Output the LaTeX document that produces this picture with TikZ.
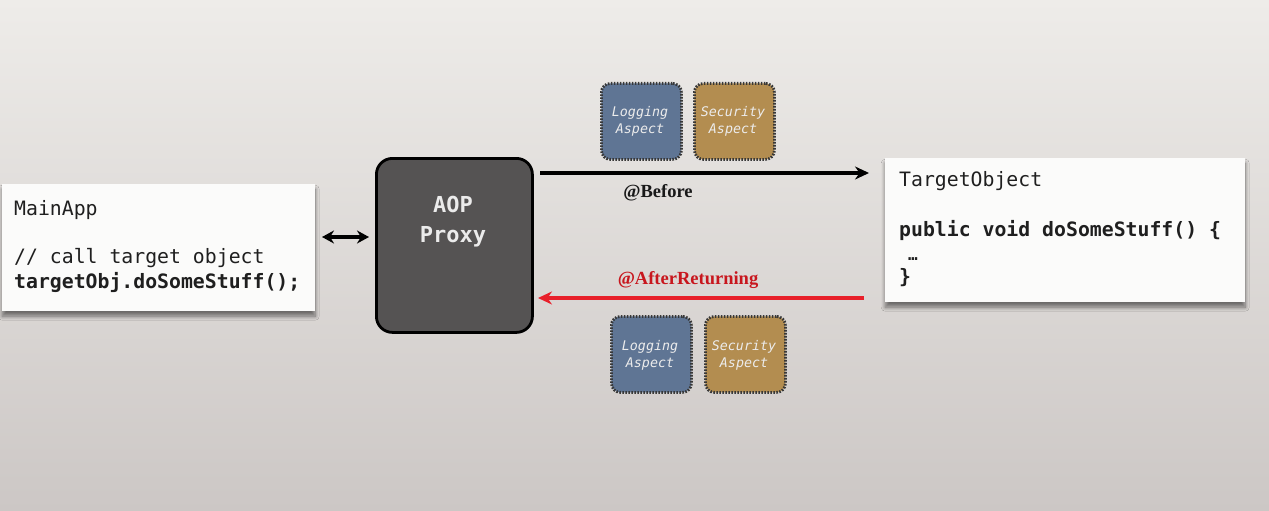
\documentclass[tikz,border=0pt]{standalone}
\usepackage{fontspec}
\setmonofont{DejaVu Sans Mono}
\newfontfamily\labelfont{Liberation Serif}
\usetikzlibrary{arrows.meta,shadows.blur}
\definecolor{bgtop}{HTML}{EEECE9}
\definecolor{bgmid}{HTML}{E8E5E2}
\definecolor{bgbot}{HTML}{CCC7C5}
\definecolor{proxyfill}{HTML}{555353}
\definecolor{logfill}{HTML}{5F7594}
\definecolor{secfill}{HTML}{B38D50}
\definecolor{aspecttext}{HTML}{ECECEC}
\definecolor{retred}{HTML}{E8202A}
\definecolor{retlabel}{HTML}{C8161E}
\definecolor{codebox}{HTML}{FBFBFA}
\tikzset{
  codepanel/.style={draw=none, fill=codebox, anchor=north west, inner sep=0pt,
    blur shadow={shadow xshift=0pt, shadow yshift=-5pt, shadow blur steps=8, shadow opacity=50, shadow blur radius=4pt}},
  codetext/.style={anchor=base west, inner sep=0pt, font=\ttfamily\fontsize{19.8}{24}\selectfont, text=black!88},
  aspectbox/.style={draw=black!78, line width=2.8pt, dash pattern=on 1.6pt off 1.4pt, rounded corners=9pt, anchor=north west,
    minimum width=80pt, minimum height=76pt, inner sep=0pt},
  aspectlabel/.style={anchor=base, inner sep=0pt, text=aspecttext,
    font=\ttfamily\itshape\fontsize{13.3}{16}\selectfont},
  callarrow/.style={line width=3.6pt, -{Stealth[length=14pt,width=13pt]}},
  advicelabel/.style={anchor=base, inner sep=0pt, font=\labelfont\bfseries\fontsize{18.5}{20}\selectfont},
}
\begin{document}
\begin{tikzpicture}[x=1pt,y=-1pt]
\shade[top color=bgtop, middle color=bgmid, bottom color=bgbot] (0,0) rectangle (1269,511);
\useasboundingbox (0,0) rectangle (1269,511);

% MainApp panel
\node[codepanel, minimum width=313pt, minimum height=127pt] (mainapp) at (2,184) {};
\node[codetext] (ma1) at (14,215) {MainApp};
\node[codetext] (ma2) at (14,263) {// call target object};
\node[codetext, font=\ttfamily\bfseries\fontsize{19.8}{24}\selectfont] (ma3) at (14,288) {targetObj.doSomeStuff();};

% AOP proxy
\node[draw=black, line width=2.8pt, fill=proxyfill, rounded corners=16pt, anchor=north west,
      minimum width=156pt, minimum height=174pt] (proxy) at (375,157) {};
\node[anchor=base, inner sep=0pt, text=white!92!black, font=\ttfamily\bfseries\fontsize{22}{26}\selectfont] (aop) at (453,212) {AOP};
\node[anchor=base, inner sep=0pt, text=white!92!black, font=\ttfamily\bfseries\fontsize{22}{26}\selectfont] (prx) at (453,242) {Proxy};

% double arrow
\coordinate (dl) at (322,237);
\coordinate (dr) at (369,237);
\draw[line width=3.4pt, {Stealth[length=12pt,width=13pt]}-{Stealth[length=12pt,width=13pt]}] (dl) -- (dr);

% Target object panel
\node[codepanel, minimum width=360pt, minimum height=144pt] (target) at (885,158) {};
\node[codetext] (t1) at (899,186) {TargetObject};
\node[codetext, font=\ttfamily\bfseries\fontsize{19.8}{24}\selectfont] (t2) at (899,236) {public void doSomeStuff() \{};
\node[codetext, font=\ttfamily\bfseries\fontsize{16}{20}\selectfont] (t3) at (908,260) {…};
\node[codetext, font=\ttfamily\bfseries\fontsize{19.8}{24}\selectfont] (t4) at (899,283) {\}};

% calls
\coordinate (bs) at (540,173);
\coordinate (be) at (869,173);
\draw[callarrow, draw=black] (bs) -- (be);
\node[advicelabel, text=black!90] (before) at (658,197) {@Before};

\coordinate (rs) at (864,298);
\coordinate (re) at (538,298);
\draw[callarrow, draw=retred] (rs) -- (re);
\node[advicelabel, text=retlabel] (after) at (688,284) {@AfterReturning};

% aspects top
\node[aspectbox, fill=logfill] (log1) at (600,82) {};
\node[aspectlabel] at (640,116) {Logging};
\node[aspectlabel] at (640,133) {Aspect};
\node[aspectbox, fill=secfill] (sec1) at (693,82) {};
\node[aspectlabel] at (733,116) {Security};
\node[aspectlabel] at (733,133) {Aspect};

% aspects bottom
\node[aspectbox, fill=logfill] (log2) at (610,315) {};
\node[aspectlabel] at (650,350) {Logging};
\node[aspectlabel] at (650,367) {Aspect};
\node[aspectbox, fill=secfill] (sec2) at (704,315) {};
\node[aspectlabel] at (744,350) {Security};
\node[aspectlabel] at (744,367) {Aspect};
\end{tikzpicture}
\end{document}
